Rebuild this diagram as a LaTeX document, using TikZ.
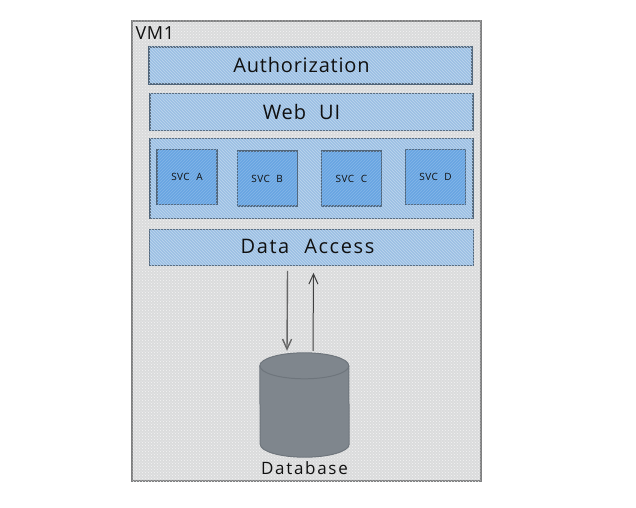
\documentclass[tikz,border=0pt]{standalone}
\usepackage{fontspec}
\usepackage{xcolor}
\setmainfont[WordSpace=2.2]{Open Sans}
\usetikzlibrary{arrows.meta, positioning, patterns}
\definecolor{vmfill}{HTML}{DADBDC}
\definecolor{vmline}{HTML}{7F8081}
\definecolor{layerfill}{HTML}{9CC0E4}
\definecolor{svcfill}{HTML}{68A5E2}
\definecolor{boxline}{HTML}{50657A}
\definecolor{dbfill}{HTML}{7F868D}
\definecolor{dbline}{HTML}{6E757C}
\definecolor{inkline}{HTML}{101010}
\newcommand{\handtext}[1]{\fontsize{#1}{#1}\selectfont\addfontfeature{LetterSpace=4}}

\begin{document}
\begin{tikzpicture}[
            x=1pt, y=1pt,
            text=inkline,
            vm/.style={rectangle, draw=vmline, line width=1.4pt, fill=vmfill, postaction={pattern=crosshatch dots, pattern color=white!70!vmfill}, minimum width=349pt, minimum height=460pt, inner sep=0pt},
            layer/.style={rectangle, draw=boxline, line width=1.1pt, fill=layerfill, postaction={pattern=north west lines, pattern color=white!35!layerfill}, minimum width=323pt, minimum height=37pt, inner sep=0pt},
            layertext/.style={inner sep=0pt, font=\handtext{20}},
            svc/.style={rectangle, draw=boxline, line width=1.2pt, fill=svcfill, postaction={pattern=north east lines, pattern color=white!20!svcfill}, minimum width=60pt, minimum height=55pt, inner sep=0pt, font=\handtext{10}},
            db/.style={rectangle, minimum width=89pt, minimum height=104pt, inner sep=0pt},
            dbshape/.style={draw=dbline, line width=1pt, fill=dbfill},
            flow/.style={-{Straight Barb[length=10pt,width=9pt]}}
        ]
        \useasboundingbox (0,0) rectangle (636,507);

        % Outer box
        \node[vm] (vm1) at (306.5,256) {};
        \node[below right=6pt and 4pt of vm1.north west, anchor=north west, inner sep=0pt, font=\handtext{18}] (vmlabel) {VM1};

        % Layers
        \node[layer] (auth) at (310.5,441.5) {};
        \node[layer, below=8pt of auth, xshift=1pt] (webui) {};
        \node[layer, below=7pt of webui, minimum height=80pt] (services) {};
        \node[layer, below=10pt of services, minimum height=36pt, minimum width=324pt] (access) {};

        % Layer labels
        \node[layertext] (authlabel) at ([xshift=-9pt]auth.center) {Authorization};
        \node[layertext] (webuilabel) at ([xshift=-10pt]webui.center) {Web UI};
        \node[layertext, font=\handtext{20}\addfontfeature{LetterSpace=8}] (accesslabel) at ([xshift=-4pt,yshift=1pt]access.center) {Data Access};

        % Services
        \node[svc] (svca) at (187,330) {SVC A};
        \node[svc, right=19pt of svca, yshift=-1.5pt] (svcb) {SVC B};
        \node[svc, right=23pt of svcb] (svcc) {SVC C};
        \node[svc, right=23pt of svcc, yshift=1.5pt] (svcd) {SVC D};

        % Database
        \node[db] (database) at (304.5,102) {};
        \draw[dbshape] ([yshift=-13pt]database.north west) arc[x radius=44.5, y radius=13, start angle=180, end angle=0]
            -- ([yshift=13pt]database.south east) arc[x radius=44.5, y radius=13, start angle=0, end angle=-180] -- cycle;
        \draw[dbshape, fill=none] ([yshift=-13pt]database.north west) arc[x radius=44.5, y radius=13, start angle=180, end angle=360];
        \node[below=4pt of database, inner sep=0pt, font=\fontsize{17}{17}\selectfont\addfontfeature{LetterSpace=10}] (dblabel) {Database};

        % Connections
        \draw[flow, black!60, line width=1.4pt] ([xshift=-24pt,yshift=-5pt]access.south) -- ([xshift=-17.5pt,yshift=2pt]database.north);
        \draw[flow, black!75, line width=1pt] ([xshift=8.5pt,yshift=2pt]database.north) -- ([xshift=2pt,yshift=-7pt]access.south);

    \end{tikzpicture}
\end{document}
